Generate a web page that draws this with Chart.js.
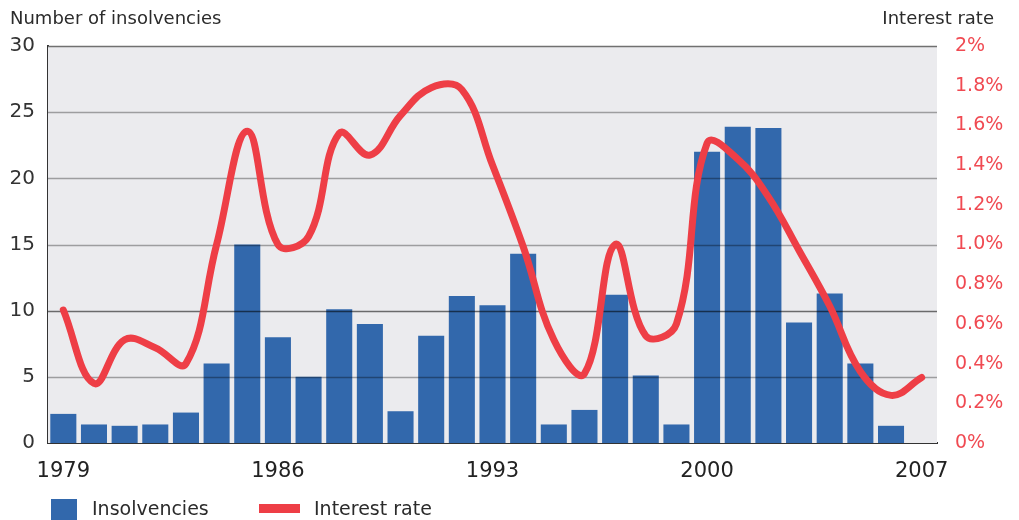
<!DOCTYPE html>
<html>
<head>
<meta charset="utf-8">
<script src="https://cdn.jsdelivr.net/npm/chart.js@4/dist/chart.umd.min.js"></script>
<style>
  body { margin: 0; background: #fff; }
  #wrap { position: relative; width: 1019px; height: 520px; }
</style>
</head>
<body>
<div id="wrap"><canvas id="chart"></canvas></div>
<script>
const years = ['1979', '1980', '1981', '1982', '1983', '1984', '1985', '1986', '1987', '1988',
  '1989', '1990', '1991', '1992', '1993', '1994', '1995', '1996', '1997', '1998',
  '1999', '2000', '2001', '2002', '2003', '2004', '2005', '2006', '2007'];

// number of insolvencies per year (2007 has no bar)
const insolvencies = [2.2, 1.4, 1.3, 1.4, 2.3, 6.0, 15.0, 8.0, 5.0, 10.1,
  9.0, 2.4, 8.1, 11.1, 10.4, 14.3, 1.4, 2.5, 11.2, 5.1,
  1.4, 22.0, 23.9, 23.8, 9.1, 11.3, 6.0, 1.3, null];

// interest rate in percent
const interestRate = [0.67, 0.30, 0.52, 0.48, 0.40, 1.00, 1.57, 1.00, 1.04, 1.56,
  1.45, 1.65, 1.79, 1.78, 1.40, 0.99, 0.52, 0.35, 1.00, 0.54,
  0.60, 1.51, 1.43, 1.24, 0.97, 0.69, 0.36, 0.24, 0.33];

const leftTicks = [0, 5, 10, 15, 20, 25, 30];
const rightTicks = ['0%', '0.2%', '0.4%', '0.6%', '0.8%', '1.0%', '1.2%', '1.4%', '1.6%', '1.8%', '2%'];

const FONT = 'DejaVu Sans';
const BLUE = '#3268ac';
const RED = '#ee3e46';

// plot background + grid lines drawn over the bars but under the line
const gridPlugin = {
    id: 'gridPlugin',
    beforeDatasetsDraw(chart) {
        const { ctx, chartArea: a } = chart;
        ctx.save();
        ctx.fillStyle = '#ebebee';
        ctx.fillRect(a.left, a.top, a.right - a.left, a.bottom - a.top);
        ctx.restore();
    },
    afterDatasetDraw(chart, args) {
        if (args.meta.type !== 'bar') return;
        const { ctx, chartArea: a, scales } = chart;
        ctx.save();
        leftTicks.forEach(v => {
            if (v === 0) return;
            const y = Math.round(scales.y.getPixelForValue(v)) + 0.5;
            ctx.strokeStyle = v === 30 ? '#707070' : (v === 10 ? 'rgba(0,0,0,0.55)' : 'rgba(0,0,0,0.33)');
            ctx.lineWidth = 1.6;
            ctx.beginPath();
            ctx.moveTo(a.left, y);
            ctx.lineTo(a.right, y);
            ctx.stroke();
        });
        ctx.restore();
    },
    afterDraw(chart) {
        const { ctx } = chart;
        const bars = chart.data.datasets.find(d => d.type === 'bar');
        const line = chart.data.datasets.find(d => d.type === 'line');
        ctx.save();
        ctx.fillStyle = '#2b2b2b';
        ctx.font = '18px "' + FONT + '"';
        ctx.textBaseline = 'middle';
        ctx.textAlign = 'left';
        ctx.fillText('Number of insolvencies', 10, 19);
        ctx.textAlign = 'right';
        ctx.fillText('Interest rate', 994, 19);

        // legend
        ctx.textAlign = 'left';
        ctx.font = '19px "' + FONT + '"';
        ctx.fillStyle = bars.backgroundColor;
        ctx.fillRect(51, 499, 26, 21);
        ctx.fillStyle = '#2b2b2b';
        ctx.fillText(bars.label, 92, 510);
        ctx.fillStyle = line.borderColor;
        ctx.fillRect(259, 504, 41, 9);
        ctx.fillStyle = '#2b2b2b';
        ctx.fillText(line.label, 314, 510);
        ctx.restore();
    }
};

new Chart(document.getElementById('chart'), {
    data: {
        labels: years,
        datasets: [
            {
                type: 'line',
                label: 'Interest rate',
                data: interestRate,
                yAxisID: 'y2',
                borderColor: RED,
                borderWidth: 7,
                borderCapStyle: 'round',
                borderJoinStyle: 'round',
                pointRadius: 0,
                tension: 0.4,
                fill: false,
                order: 1
            },
            {
                type: 'bar',
                label: 'Insolvencies',
                data: insolvencies,
                yAxisID: 'y',
                backgroundColor: BLUE,
                categoryPercentage: 1,
                barPercentage: 0.85,
                order: 2
            }
        ]
    },
    options: {
        responsive: true,
        maintainAspectRatio: false,
        animation: false,
        layout: { padding: { top: 46, left: 0, right: 0, bottom: 0 } },
        plugins: {
            legend: { display: false },
            tooltip: { enabled: false }
        },
        scales: {
            x: {
                offset: true,
                grid: { display: false, drawTicks: false },
                border: { display: true, color: '#333', width: 2 },
                ticks: {
                    autoSkip: false,
                    maxRotation: 0,
                    padding: 16,
                    color: '#222',
                    font: { family: FONT, size: 21 },
                    callback: (v, i) => (i % 7 === 0 ? years[i] : '')
                },
                afterFit: s => { s.height = 77; }
            },
            y: {
                position: 'left',
                min: 0,
                max: 30,
                grid: { display: false, drawTicks: false },
                border: { display: true, color: '#333', width: 2 },
                ticks: {
                    stepSize: 5,
                    padding: 13,
                    color: '#333',
                    font: { family: FONT, size: 20 }
                },
                afterFit: s => { s.width = 48; }
            },
            y2: {
                position: 'right',
                min: 0,
                max: 2,
                grid: { display: false, drawTicks: false },
                border: { display: false },
                ticks: {
                    stepSize: 0.2,
                    padding: 18,
                    color: '#f04a52',
                    font: { family: FONT, size: 19 },
                    callback: (v, i) => rightTicks[i]
                },
                afterFit: s => { s.width = 82; }
            }
        }
    },
    plugins: [gridPlugin]
});
</script>
</body>
</html>
